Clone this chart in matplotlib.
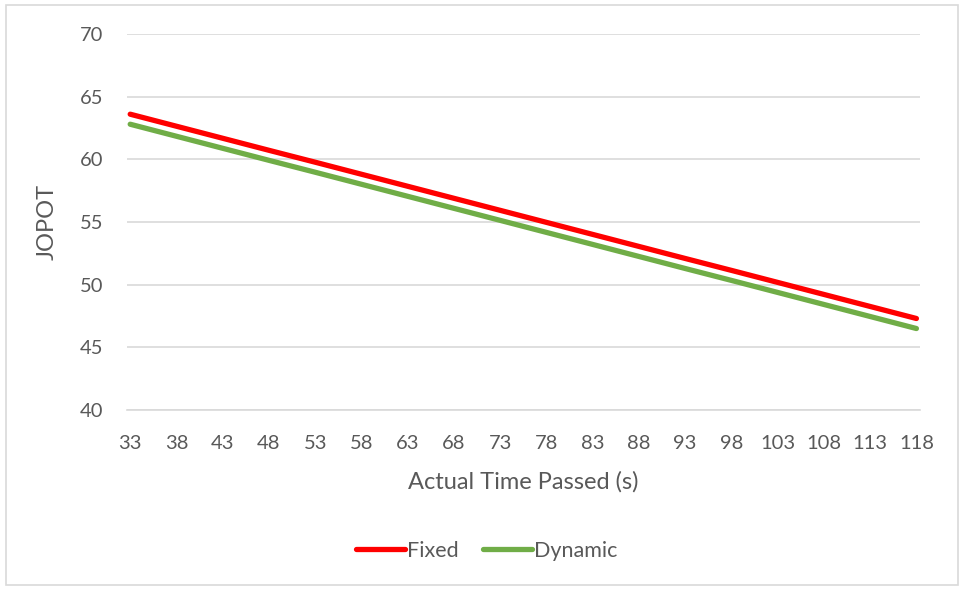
import matplotlib.pyplot as plt
from matplotlib.patches import Rectangle

plt.rcParams['font.family'] = ['Lato', 'DejaVu Sans']

# time points on the category axis
times = [33, 38, 43, 48, 53, 58, 63, 68, 73, 78, 83, 88, 93, 98, 103, 108, 113, 118]

# JOPOT values for each strategy
fixed = [63.60, 62.64, 61.68, 60.72, 59.77, 58.81, 57.85, 56.89, 55.93,
         54.97, 54.01, 53.05, 52.09, 51.14, 50.18, 49.22, 48.26, 47.30]
dynamic = [62.80, 61.84, 60.88, 59.92, 58.97, 58.01, 57.05, 56.09, 55.13,
           54.17, 53.21, 52.25, 51.29, 50.34, 49.38, 48.42, 47.46, 46.50]

text_color = '#595959'
grid_color = '#D9D9D9'

fig = plt.figure(figsize=(9.64, 5.89), dpi=100)
ax = fig.add_axes([0.1317, 0.3039, 0.8223, 0.6384])

x = list(range(len(times)))
ax.plot(x, fixed, color='#FF0000', lw=3.8, solid_capstyle='round', label='Fixed')
ax.plot(x, dynamic, color='#70AD47', lw=3.8, solid_capstyle='round', label='Dynamic')

ax.set_xlim(-0.07, len(times) - 1 + 0.07)
ax.set_ylim(40, 70)
ax.set_yticks(range(40, 71, 5))
ax.set_xticks(x)
ax.set_xticklabels([str(t) for t in times])

ax.grid(axis='y', color=grid_color, lw=1.2)
ax.set_axisbelow(True)
for side in ['top', 'right', 'left']:
    ax.spines[side].set_visible(False)
ax.spines['bottom'].set_color(grid_color)
ax.spines['bottom'].set_linewidth(1.2)
ax.tick_params(length=0, labelsize=14.5, colors=text_color)
ax.tick_params(axis='x', pad=18)
ax.tick_params(axis='y', pad=17)

ax.set_xlabel('Actual Time Passed (s)', fontsize=17, color=text_color, labelpad=14)
ax.set_ylabel('JOPOT', fontsize=17, color=text_color, labelpad=16)

fig.legend(loc='center', bbox_to_anchor=(0.505, 0.065), ncol=2, frameon=False,
           fontsize=15.5, labelcolor=text_color, handlelength=2.3,
           handletextpad=0.1, columnspacing=1.1)

# thin chart border
fig.patches.append(Rectangle((6 / 964, 4 / 589), 952 / 964, 580 / 589,
                             transform=fig.transFigure, fill=False,
                             edgecolor='#D9D9D9', lw=1.2))

fig.savefig('out.png', dpi=100)
